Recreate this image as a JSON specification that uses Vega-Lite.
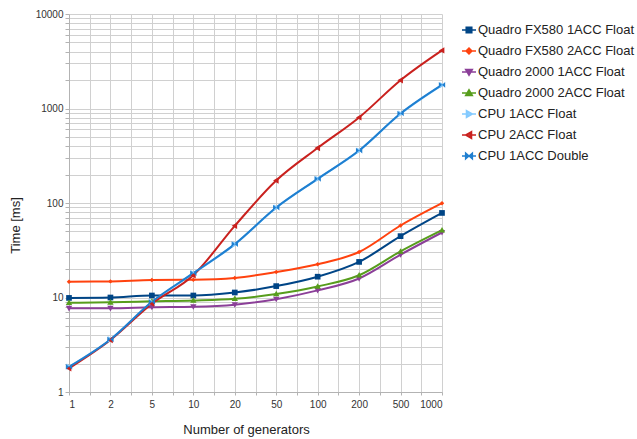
{
  "$schema": "https://vega.github.io/schema/vega-lite/v6.json",
  "width": 373,
  "height": 378,
  "autosize": "none",
  "padding": {"left": 69, "top": 14, "right": 195, "bottom": 47},
  "background": "white",
  "config": {
    "view": {"stroke": null},
    "font": "Liberation Sans",
    "axis": {
      "labelFont": "Liberation Sans",
      "labelFontSize": 10,
      "labelColor": "#333333",
      "titleFont": "Liberation Sans",
      "titleFontSize": 13,
      "titleFontWeight": "normal",
      "titleColor": "#222222",
      "gridColor": "#d0d0d0",
      "gridWidth": 1,
      "domainColor": "#b3b3b3",
      "tickColor": "#b3b3b3",
      "labelOverlap": false
    },
    "legend": {
      "orient": "none",
      "legendX": 392,
      "legendY": 8,
      "labelFont": "Liberation Sans",
      "labelFontSize": 13,
      "labelColor": "#222222",
      "labelLimit": 300,
      "labelOffset": 1,
      "symbolSize": 196,
      "symbolStrokeWidth": 1.5,
      "symbolOpacity": 1,
      "rowPadding": 6,
      "padding": 0
    }
  },
  "datasets": {
    "runs": [
      {"n": "1", "i": 0, "Quadro FX580 1ACC Float": 9.9, "Quadro FX580 2ACC Float": 14.7, "Quadro 2000 1ACC Float": 7.7, "Quadro 2000 2ACC Float": 8.8, "CPU 1ACC Float": 1.85, "CPU 2ACC Float": 1.78, "CPU 1ACC Double": 1.85},
      {"n": "2", "i": 1, "Quadro FX580 1ACC Float": 10.0, "Quadro FX580 2ACC Float": 14.8, "Quadro 2000 1ACC Float": 7.7, "Quadro 2000 2ACC Float": 8.9, "CPU 1ACC Float": 3.6, "CPU 2ACC Float": 3.55, "CPU 1ACC Double": 3.6},
      {"n": "5", "i": 2, "Quadro FX580 1ACC Float": 10.5, "Quadro FX580 2ACC Float": 15.3, "Quadro 2000 1ACC Float": 7.9, "Quadro 2000 2ACC Float": 9.1, "CPU 1ACC Float": 8.9, "CPU 2ACC Float": 8.6, "CPU 1ACC Double": 9.0},
      {"n": "10", "i": 3, "Quadro FX580 1ACC Float": 10.5, "Quadro FX580 2ACC Float": 15.4, "Quadro 2000 1ACC Float": 8.0, "Quadro 2000 2ACC Float": 9.3, "CPU 1ACC Float": 18.0, "CPU 2ACC Float": 17.2, "CPU 1ACC Double": 18.1},
      {"n": "20", "i": 4, "Quadro FX580 1ACC Float": 11.3, "Quadro FX580 2ACC Float": 16.1, "Quadro 2000 1ACC Float": 8.4, "Quadro 2000 2ACC Float": 9.7, "CPU 1ACC Float": 36.5, "CPU 2ACC Float": 57.3, "CPU 1ACC Double": 36.7},
      {"n": "50", "i": 5, "Quadro FX580 1ACC Float": 13.2, "Quadro FX580 2ACC Float": 18.6, "Quadro 2000 1ACC Float": 9.6, "Quadro 2000 2ACC Float": 10.9, "CPU 1ACC Float": 89, "CPU 2ACC Float": 173, "CPU 1ACC Double": 89.5},
      {"n": "100", "i": 6, "Quadro FX580 1ACC Float": 16.6, "Quadro FX580 2ACC Float": 22.5, "Quadro 2000 1ACC Float": 11.9, "Quadro 2000 2ACC Float": 13.1, "CPU 1ACC Float": 180, "CPU 2ACC Float": 382, "CPU 1ACC Double": 180},
      {"n": "200", "i": 7, "Quadro FX580 1ACC Float": 23.8, "Quadro FX580 2ACC Float": 30.3, "Quadro 2000 1ACC Float": 15.9, "Quadro 2000 2ACC Float": 17.2, "CPU 1ACC Float": 358, "CPU 2ACC Float": 804, "CPU 1ACC Double": 359},
      {"n": "500", "i": 8, "Quadro FX580 1ACC Float": 44.6, "Quadro FX580 2ACC Float": 57.8, "Quadro 2000 1ACC Float": 28.4, "Quadro 2000 2ACC Float": 30.8, "CPU 1ACC Float": 880, "CPU 2ACC Float": 1991, "CPU 1ACC Double": 885},
      {"n": "1000", "i": 9, "Quadro FX580 1ACC Float": 78.5, "Quadro FX580 2ACC Float": 99.5, "Quadro 2000 1ACC Float": 48.8, "Quadro 2000 2ACC Float": 51.6, "CPU 1ACC Float": 1770, "CPU 2ACC Float": 4120, "CPU 1ACC Double": 1776}
    ]
  },
  "data": {"name": "runs"},
  "transform": [
    {"fold": ["Quadro FX580 1ACC Float", "Quadro FX580 2ACC Float", "Quadro 2000 1ACC Float", "Quadro 2000 2ACC Float", "CPU 1ACC Float", "CPU 2ACC Float", "CPU 1ACC Double"], "as": ["series", "t"]}
  ],
  "encoding": {
    "x": {
      "field": "i",
      "type": "quantitative",
      "scale": {"domain": [0, 9], "nice": false, "zero": false},
      "axis": {
        "title": "Number of generators",
        "tickCount": 18,
        "labelExpr": "datum.value % 1 ? '' : ['1','2','5','10','20','50','100','200','500','1000'][datum.value]",
        "tickSize": 3,
        "labelPadding": 4,
        "titlePadding": 14,
        "titleX": 177,
        "titleAlign": "center",
        "domain": true
      }
    },
    "y": {
      "field": "t",
      "type": "quantitative",
      "scale": {"type": "log", "domain": [1, 10000], "nice": false},
      "axis": {
        "title": "Time [ms]",
        "labelExpr": "indexof([1,10,100,1000,10000], datum.value) >= 0 ? format(datum.value, 'd') : ''",
        "tickSize": 4,
        "labelPadding": 2,
        "titleX": -54,
        "titleY": 211,
        "titleAlign": "center",
        "titleBaseline": "middle",
        "titleAngle": -90
      }
    }
  },
  "layer": [
    {
      "mark": {"type": "line", "strokeWidth": 2, "interpolate": "monotone"},
      "encoding": {
        "color": {
          "field": "series",
          "type": "nominal",
          "scale": {
            "domain": ["Quadro FX580 1ACC Float", "Quadro FX580 2ACC Float", "Quadro 2000 1ACC Float", "Quadro 2000 2ACC Float", "CPU 1ACC Float", "CPU 2ACC Float", "CPU 1ACC Double"],
            "range": ["#004586", "#ff420e", "#8b3f98", "#579d1c", "#83caff", "#c9211e", "#1f7fd0"]
          },
          "legend": null
        }
      }
    },
    {
      "mark": {"type": "point", "filled": true, "size": 40, "opacity": 1},
      "encoding": {
        "color": {
          "field": "series",
          "type": "nominal",
          "scale": {
            "domain": ["Quadro FX580 1ACC Float", "Quadro FX580 2ACC Float", "Quadro 2000 1ACC Float", "Quadro 2000 2ACC Float", "CPU 1ACC Float", "CPU 2ACC Float", "CPU 1ACC Double"],
            "range": ["#004586", "#ff420e", "#8b3f98", "#579d1c", "#83caff", "#c9211e", "#1f7fd0"]
          },
          "legend": null
        },
        "shape": {
          "field": "series",
          "type": "nominal",
          "scale": {
            "domain": ["Quadro FX580 1ACC Float", "Quadro FX580 2ACC Float", "Quadro 2000 1ACC Float", "Quadro 2000 2ACC Float", "CPU 1ACC Float", "CPU 2ACC Float", "CPU 1ACC Double"],
            "range": [
              "M-0.9,-0.9H0.9V0.9H-0.9Z",
              "M0,-0.7L0.7,0L0,0.7L-0.7,0Z",
              "M-1,-0.75H1L0,1Z",
              "M-1,0.75H1L0,-1Z",
              "M-0.75,-1L1,0L-0.75,1Z",
              "M0.75,-1L-1,0L0.75,1Z",
              "M-1,-0.9L1,0.9V-0.9L-1,0.9Z"
            ]
          },
          "legend": null
        }
      }
    },
    {
      "mark": {"type": "point", "filled": false, "opacity": 0},
      "encoding": {
        "color": {
          "field": "series",
          "type": "nominal",
          "title": null,
          "scale": {
            "domain": ["Quadro FX580 1ACC Float", "Quadro FX580 2ACC Float", "Quadro 2000 1ACC Float", "Quadro 2000 2ACC Float", "CPU 1ACC Float", "CPU 2ACC Float", "CPU 1ACC Double"],
            "range": ["#004586", "#ff420e", "#8b3f98", "#579d1c", "#83caff", "#c9211e", "#1f7fd0"]
          }
        },
        "shape": {
          "field": "series",
          "type": "nominal",
          "title": null,
          "scale": {
            "domain": ["Quadro FX580 1ACC Float", "Quadro FX580 2ACC Float", "Quadro 2000 1ACC Float", "Quadro 2000 2ACC Float", "CPU 1ACC Float", "CPU 2ACC Float", "CPU 1ACC Double"],
            "range": [
              "M-1,0H1M-0.4,-0.4H0.4V0.4H-0.4ZM-0.4,-0.2H0.4M-0.4,0.2H0.4",
              "M-1,0H1M0,-0.42L0.42,0L0,0.42L-0.42,0ZM0,-0.2L0.2,0L0,0.2L-0.2,0Z",
              "M-1,0H1M-0.48,-0.36H0.48L0,0.48ZM-0.3,-0.15H0.3M-0.15,0.15H0.15",
              "M-1,0H1M-0.48,0.36H0.48L0,-0.48ZM-0.3,0.15H0.3M-0.15,-0.15H0.15",
              "M-1,0H1M-0.36,-0.48L0.48,0L-0.36,0.48ZM-0.15,-0.3V0.3M0.15,-0.15V0.15",
              "M-1,0H1M0.36,-0.48L-0.48,0L0.36,0.48ZM0.15,-0.3V0.3M-0.15,-0.15V0.15",
              "M-1,0H1M-0.48,-0.42L0.48,0.42V-0.42L-0.48,0.42ZM-0.3,-0.25V0.25M0.3,-0.25V0.25"
            ]
          }
        }
      }
    }
  ],
  "resolve": {"scale": {"shape": "independent", "color": "independent"}}
}
